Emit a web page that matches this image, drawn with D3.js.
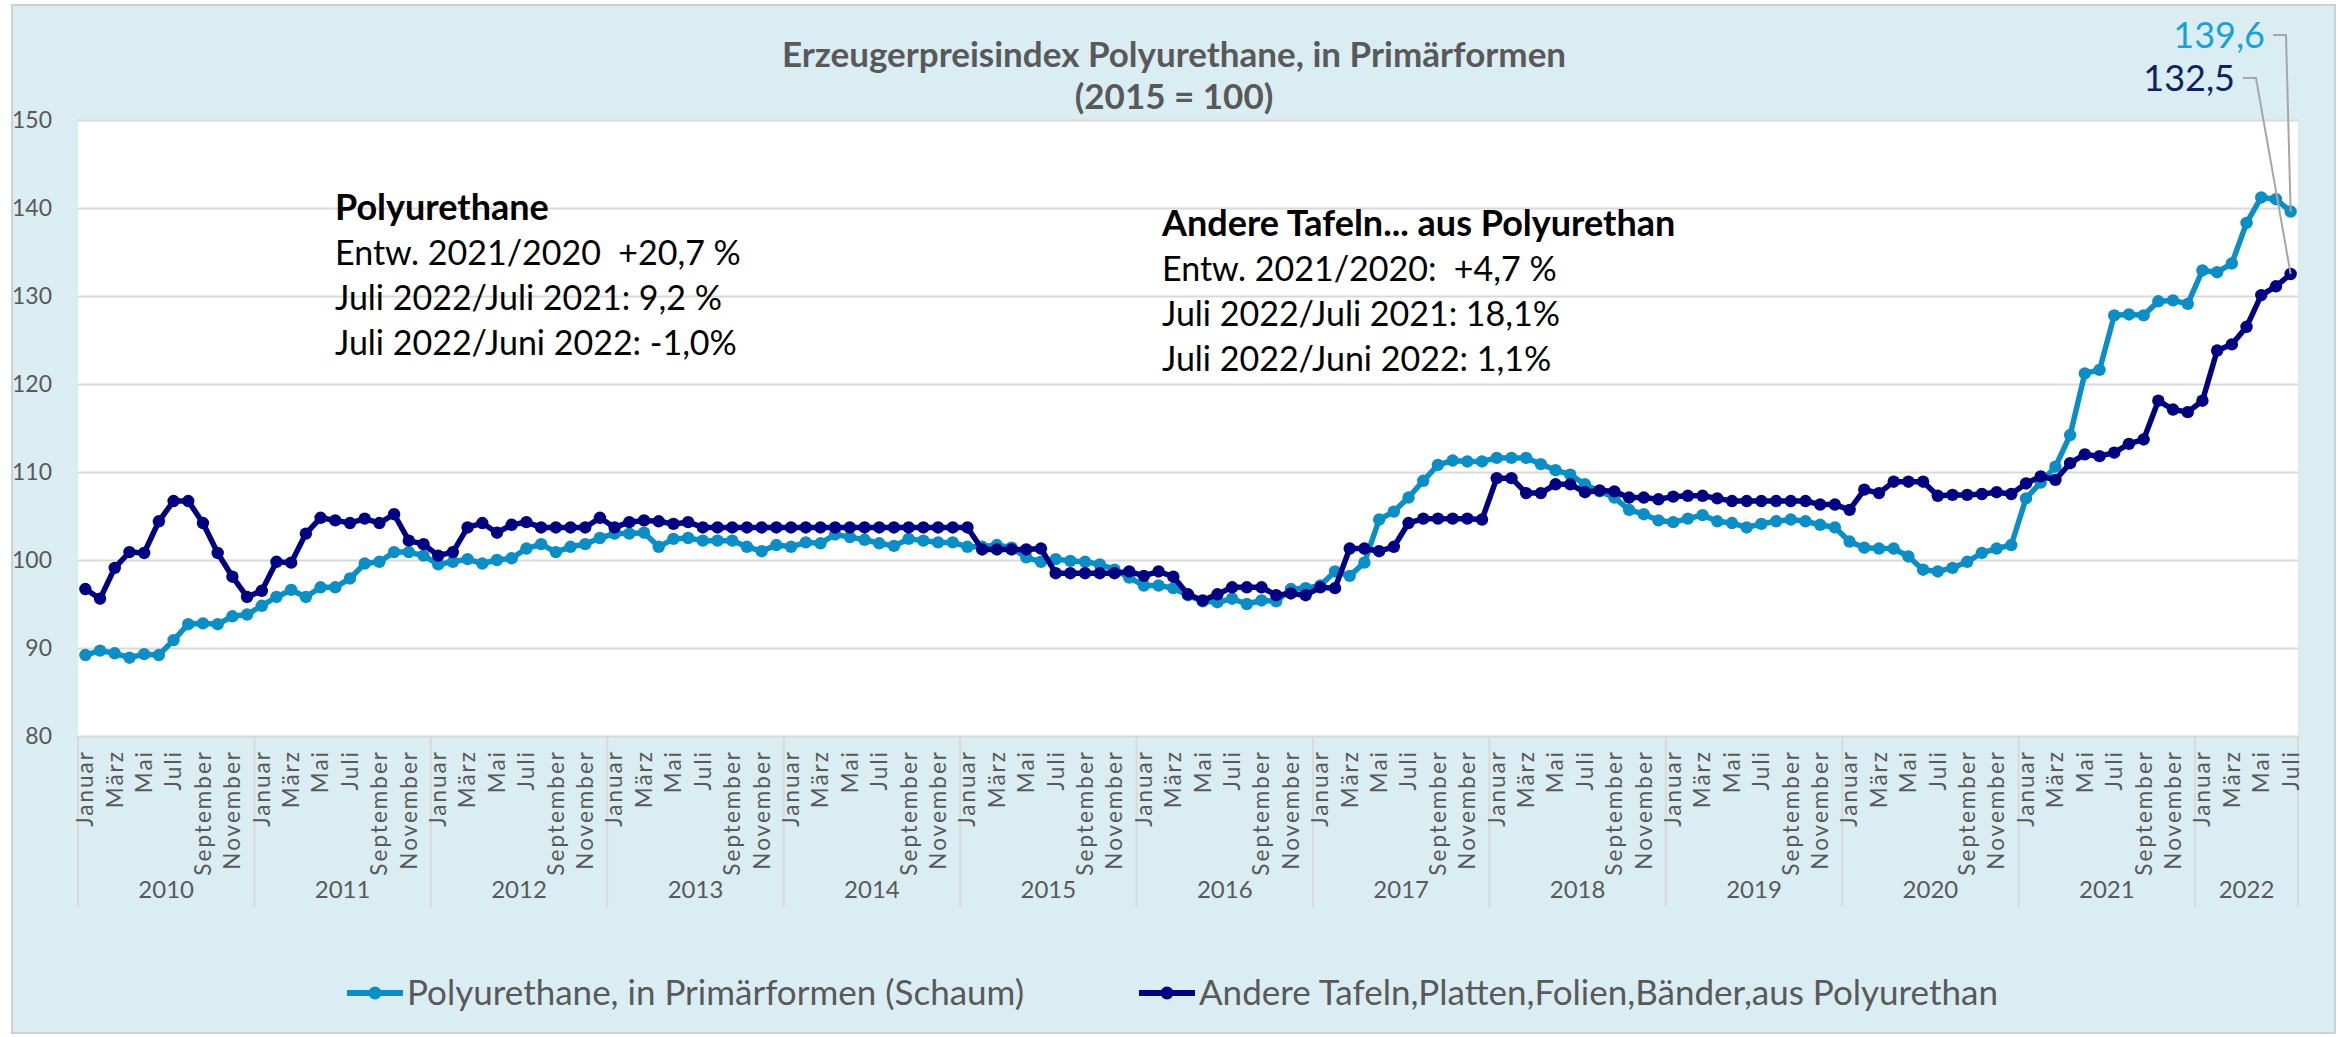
<!DOCTYPE html>
<html>
<head>
<meta charset="utf-8">
<script src="https://cdn.jsdelivr.net/npm/d3@7"></script>
<style>
  body { margin: 0; background: #ffffff; }
  svg text { font-family: Lato, "Open Sans", sans-serif; }
</style>
</head>
<body>
<script>
var svgWidth = 2338;
var svgHeight = 1037;

var margin = {
  top: 120,
  right: 40,
  bottom: 301,
  left: 78
};

var chartWidth = svgWidth - margin.left - margin.right;
var chartHeight = svgHeight - margin.top - margin.bottom;

// DATA

var years = ["2010", "2011", "2012", "2013", "2014", "2015", "2016", "2017", "2018", "2019", "2020", "2021", "2022"];
var monthNames = ["Januar", "Februar", "März", "April", "Mai", "Juni", "Juli", "August", "September", "Oktober", "November", "Dezember"];
var yTicks = [80, 90, 100, 110, 120, 130, 140, 150];

// Polyurethane, in Primärformen (Schaum), Jan 2010 - Jul 2022
var polyurethane = [
  89.2, 89.7, 89.4, 88.9, 89.3, 89.2, 90.9, 92.7, 92.8, 92.7, 93.6, 93.8,
  94.8, 95.8, 96.6, 95.8, 96.9, 96.9, 97.9, 99.6, 99.8, 100.9, 100.9, 100.5,
  99.5, 99.8, 100.1, 99.6, 100.0, 100.2, 101.3, 101.8, 100.9, 101.5, 101.8, 102.5,
  103.0, 103.0, 103.1, 101.5, 102.4, 102.5, 102.2, 102.2, 102.2, 101.5, 101.0, 101.7,
  101.5, 102.0, 101.9, 102.9, 102.6, 102.3, 101.9, 101.6, 102.4, 102.2, 102.0, 102.0,
  101.5, 101.5, 101.7, 101.4, 100.3, 99.8, 100.1, 99.9, 99.8, 99.5, 98.9, 98.0,
  97.1, 97.1, 96.8, 96.0, 95.3, 95.2, 95.6, 95.0, 95.4, 95.3, 96.7, 96.8,
  97.1, 98.7, 98.2, 99.7, 104.6, 105.5, 107.1, 109.0, 110.8, 111.3, 111.2, 111.2,
  111.6, 111.6, 111.6, 110.9, 110.2, 109.7, 108.6, 107.8, 107.1, 105.7, 105.2, 104.5,
  104.3, 104.7, 105.1, 104.4, 104.2, 103.7, 104.1, 104.4, 104.6, 104.4, 104.0, 103.7,
  102.1, 101.4, 101.3, 101.3, 100.4, 98.9, 98.7, 99.1, 99.8, 100.8, 101.3, 101.7,
  107.0, 108.8, 110.6, 114.2, 121.2, 121.6, 127.8, 127.9, 127.8, 129.4, 129.5, 129.1,
  132.9, 132.7, 133.7, 138.3, 141.2, 141.0, 139.6
];

// Andere Tafeln, Platten, Folien, Bänder aus Polyurethan
var tafeln = [
  96.7, 95.6, 99.1, 100.9, 100.8, 104.4, 106.7, 106.7, 104.2, 100.8, 98.1, 95.8,
  96.5, 99.8, 99.7, 103.0, 104.8, 104.5, 104.2, 104.7, 104.2, 105.2, 102.2, 101.8,
  100.5, 100.9, 103.7, 104.2, 103.1, 104.0, 104.3, 103.7, 103.7, 103.7, 103.7, 104.8,
  103.7, 104.3, 104.5, 104.4, 104.1, 104.3, 103.7, 103.7, 103.7, 103.7, 103.7, 103.7,
  103.7, 103.7, 103.7, 103.7, 103.7, 103.7, 103.7, 103.7, 103.7, 103.7, 103.7, 103.7,
  103.7, 101.2, 101.2, 101.2, 101.2, 101.3, 98.5, 98.5, 98.5, 98.5, 98.5, 98.7,
  98.2, 98.7, 98.1, 96.1, 95.4, 96.1, 96.9, 96.9, 96.9, 96.0, 96.2, 96.0,
  96.9, 96.8, 101.3, 101.3, 101.0, 101.5, 104.2, 104.7, 104.7, 104.7, 104.7, 104.6,
  109.3, 109.3, 107.6, 107.6, 108.6, 108.6, 107.7, 107.9, 107.8, 107.1, 107.1, 106.9,
  107.2, 107.3, 107.3, 107.0, 106.7, 106.7, 106.7, 106.7, 106.7, 106.7, 106.3, 106.3,
  105.7, 108.0, 107.6, 108.9, 108.9, 108.9, 107.3, 107.4, 107.4, 107.5, 107.7, 107.5,
  108.7, 109.5, 109.1, 111.0, 112.0, 111.8, 112.2, 113.2, 113.7, 118.1, 117.1, 116.8,
  118.1, 123.8, 124.5, 126.5, 130.1, 131.1, 132.5
];

var seriesNames = ["Polyurethane, in Primärformen (Schaum)", "Andere Tafeln,Platten,Folien,Bänder,aus Polyurethan"];
var seriesColors = ["#0b8ec6", "#000080"];
var labelColors = ["#1aa2d6", "#0d2263"];
var titleLines = ["Erzeugerpreisindex Polyurethane, in Primärformen", "(2015 = 100)"];
var noteLeft = ["Polyurethane", "Entw. 2021/2020  +20,7 %", "Juli 2022/Juli 2021: 9,2 %", "Juli 2022/Juni 2022: -1,0%"];
var noteRight = ["Andere Tafeln... aus Polyurethan", "Entw. 2021/2020:  +4,7 %", "Juli 2022/Juli 2021: 18,1%", "Juli 2022/Juni 2022: 1,1%"];

var months = polyurethane.map(function(d, i) {
  return { i: i, year: years[Math.floor(i / 12)], month: monthNames[i % 12] };
});

// SVG

var svg = d3.select("body")
  .append("svg")
  .attr("width", svgWidth)
  .attr("height", svgHeight);

// chart background + border
svg.append("rect")
  .attr("x", 12).attr("y", 5)
  .attr("width", 2323).attr("height", 1028)
  .attr("fill", "#daedf3")
  .attr("stroke", "#d0d0d0")
  .attr("stroke-width", 2);

var chartGroup = svg.append("g")
  .attr("transform", `translate(${margin.left}, ${margin.top})`);

chartGroup.append("rect")
  .attr("width", chartWidth)
  .attr("height", chartHeight)
  .attr("fill", "#ffffff");

// SCALES

var xScale = d3.scaleBand()
  .domain(months.map(d => d.i))
  .range([0, chartWidth])
  .padding(0);
var bw = xScale.bandwidth();
var xc = i => xScale(i) + bw / 2;

var yScale = d3.scaleLinear()
  .domain([80, 150])
  .range([chartHeight, 0]);

// GRIDLINES + Y AXIS

var yAxis = d3.axisLeft(yScale)
  .tickValues(yTicks)
  .tickSize(-chartWidth)
  .tickPadding(26)
  .tickFormat(d3.format("d"));

var yAxisGroup = chartGroup.append("g").call(yAxis);
yAxisGroup.select(".domain").remove();
yAxisGroup.selectAll("line").attr("stroke", "#d9d9d9").attr("stroke-width", 2);
yAxisGroup.selectAll("text")
  .attr("fill", "#595959")
  .attr("font-size", 23)
  .style("font-family", "Lato, sans-serif");

// CATEGORY AXIS (months + years)

var yearStarts = years.map(function(yr, k) { return xScale(k * 12); }).concat([chartWidth]);

chartGroup.selectAll(".sep")
  .data(yearStarts)
  .enter()
  .append("line")
  .attr("class", "sep")
  .attr("x1", d => d).attr("x2", d => d)
  .attr("y1", chartHeight).attr("y2", chartHeight + 171)
  .attr("stroke", "#d9d9d9")
  .attr("stroke-width", 2);

var xAxis = d3.axisBottom(xScale)
  .tickValues(months.filter(d => d.i % 2 === 0).map(d => d.i))
  .tickSize(0)
  .tickFormat(i => months[i].month);

var xAxisGroup = chartGroup.append("g")
  .attr("transform", `translate(0, ${chartHeight})`)
  .attr("font-size", 22.5)
  .call(xAxis);
xAxisGroup.attr("font-size", 22.5).attr("font-family", "Lato, sans-serif");
xAxisGroup.select(".domain").remove();

// month labels: slightly spaced letters as in the original
xAxisGroup.selectAll(".tick text").each(function() {
  var word = this.textContent;
  var t = d3.select(this)
    .text(null)
    .attr("transform", "translate(0, 16) rotate(-90)")
    .attr("text-anchor", "end")
    .attr("x", 0).attr("y", 0)
    .attr("dy", "0.35em")
    .attr("fill", "#595959")
    .attr("font-size", 22.5)
    .style("font-size", "22.5px")
    .style("font-family", "Lato, sans-serif");
  word.split("").forEach(function(ch, k) {
    t.append("tspan")
      .attr("dx", k === 0 ? 0 : 2)
      .text(ch);
  });
});

chartGroup.selectAll(".year")
  .data(years)
  .enter()
  .append("text")
  .attr("class", "year")
  .attr("x", (d, k) => (yearStarts[k] + yearStarts[k + 1]) / 2)
  .attr("y", chartHeight + 162)
  .attr("text-anchor", "middle")
  .attr("fill", "#595959")
  .attr("font-size", 24)
  .text(d => d);

// LINES + MARKERS

var line = d3.line()
  .x((d, i) => xc(i))
  .y(d => yScale(d));

[polyurethane, tafeln].forEach(function(series, s) {
  chartGroup.append("path")
    .datum(series)
    .attr("d", line)
    .attr("fill", "none")
    .attr("stroke", seriesColors[s])
    .attr("stroke-width", 5.5)
    .attr("stroke-linejoin", "round");

  chartGroup.selectAll(".pt" + s)
    .data(series)
    .enter()
    .append("circle")
    .attr("class", "pt" + s)
    .attr("cx", (d, i) => xc(i))
    .attr("cy", d => yScale(d))
    .attr("r", 6.2)
    .attr("fill", seriesColors[s]);
});

// TITLE

svg.selectAll(".title")
  .data(titleLines)
  .enter()
  .append("text")
  .attr("class", "title")
  .attr("x", 1174)
  .attr("y", (d, i) => 67 + i * 42)
  .attr("text-anchor", "middle")
  .attr("font-size", 35)
  .attr("font-weight", "bold")
  .attr("fill", "#595959")
  .text(d => d);

// NOTES

function drawNote(lines, x, y0) {
  svg.append("g").selectAll("text")
    .data(lines)
    .enter()
    .append("text")
    .attr("x", x)
    .attr("y", (d, i) => y0 + i * 45)
    .attr("font-size", (d, i) => i === 0 ? 36 : 34)
    .attr("font-weight", (d, i) => i === 0 ? "bold" : "normal")
    .attr("fill", "#000000")
    .style("white-space", "pre")
    .text(d => d);
}
drawNote(noteLeft, 335, 220);
drawNote(noteRight, 1162, 236);

// LAST VALUE LABELS WITH LEADERS

var lastIdx = polyurethane.length - 1;
var lastLabels = [
  { value: polyurethane[lastIdx], tx: 2265, ty: 48, lx: 2273, color: labelColors[0] },
  { value: tafeln[lastIdx], tx: 2235, ty: 91, lx: 2243, color: labelColors[1] }
];

lastLabels.forEach(function(d) {
  var px = margin.left + xc(lastIdx);
  var py = margin.top + yScale(d.value);
  svg.append("polyline")
    .attr("points", [[d.lx, d.ty - 13], [d.lx + 13, d.ty - 13], [px, py]].map(p => p.join(",")).join(" "))
    .attr("fill", "none")
    .attr("stroke", "#a6a6a6")
    .attr("stroke-width", 2);
  svg.append("text")
    .attr("x", d.tx)
    .attr("y", d.ty)
    .attr("text-anchor", "end")
    .attr("font-size", 36)
    .attr("fill", d.color)
    .text(d3.format(".1f")(d.value).replace(".", ","));
});

// LEGEND

var legendItems = [
  { name: seriesNames[0], color: seriesColors[0], x: 347 },
  { name: seriesNames[1], color: seriesColors[1], x: 1139 }
];

var legend = svg.append("g").attr("transform", "translate(0, 993)");
legendItems.forEach(function(d) {
  legend.append("line")
    .attr("x1", d.x).attr("x2", d.x + 56)
    .attr("y1", 0).attr("y2", 0)
    .attr("stroke", d.color)
    .attr("stroke-width", 6);
  legend.append("circle")
    .attr("cx", d.x + 28).attr("cy", 0)
    .attr("r", 6.5)
    .attr("fill", d.color);
  legend.append("text")
    .attr("x", d.x + 60)
    .attr("y", 12)
    .attr("font-size", 35)
    .attr("fill", "#595959")
    .text(d.name);
});
</script>
</body>
</html>
